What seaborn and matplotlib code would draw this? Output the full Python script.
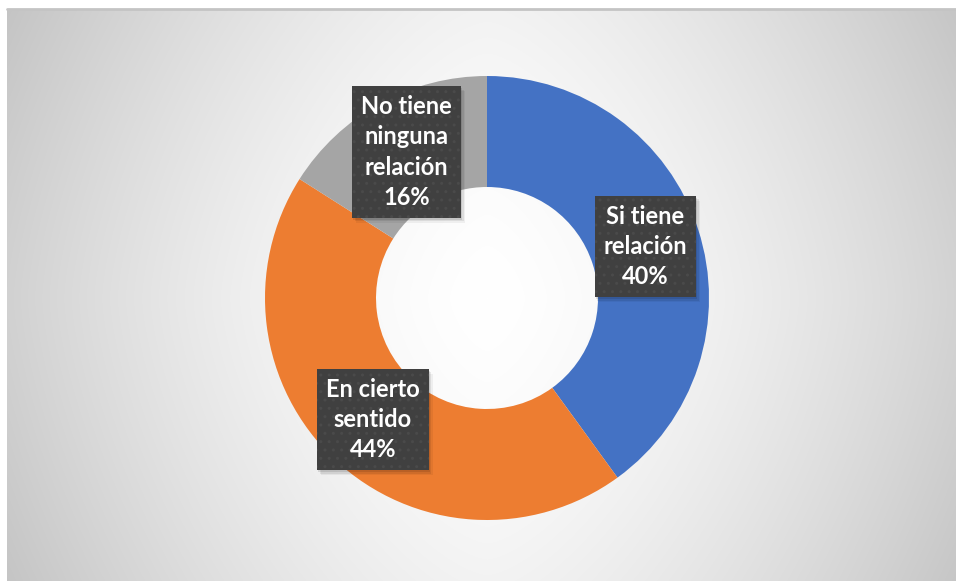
import numpy as np
import matplotlib
matplotlib.use("Agg")
import matplotlib.pyplot as plt
import matplotlib.transforms as mtrans
from matplotlib.patches import Rectangle
import seaborn as sns

# Survey answers and their shares (percent)
categories = ["Si tiene\nrelación", "En cierto\nsentido", "No tiene\nninguna\nrelación"]
shares = [40, 44, 16]
slice_colors = ["#4472C4", "#ED7D31", "#A5A5A5"]

sns.set_theme(style="white")
plt.rcParams["font.family"] = ["Lato", "DejaVu Sans"]

W, H, DPI = 956, 581, 100
fig = plt.figure(figsize=(W / DPI, H / DPI), dpi=DPI)
fig.patch.set_facecolor("white")

# Chart-area background: soft radial gradient, white centre to grey edges
bg_left, bg_top = 7, 9
bg = fig.add_axes([bg_left / W, 0, 1 - bg_left / W, (H - bg_top) / H])
bw, bh = W - bg_left, H - bg_top
xx, yy = np.meshgrid(np.arange(bw), np.arange(bh))
cx, cy = 487 - bg_left, 298 - bg_top
dx = np.abs(xx - cx) / 480.0
dy = np.abs(yy - cy) / 288.0
val = 1 - 0.18 * dx ** 1.5 - 0.05 * dy ** 1.5
val = np.clip(val, 0, 1)
bg.imshow(np.dstack([val, val, val]), aspect="auto", interpolation="bilinear",
          extent=[0, bw, bh, 0])
bg.set_xlim(0, bw)
bg.set_ylim(bh, 0)
bg.axis("off")
# thin top border
fig.add_artist(plt.Line2D([bg_left / W, 1], [(H - bg_top) / H] * 2,
                          color="#c4c4c4", lw=2.0, transform=fig.transFigure))

# Donut axes, radius 1 == 222 px, centred at (487, 298)
R = 222
cxp, cyp = 487, 298
ax = fig.add_axes([(cxp - R) / W, (H - cyp - R) / H, 2 * R / W, 2 * R / H])
ax.set_facecolor("none")
wedges, _ = ax.pie(shares, colors=slice_colors, startangle=90, counterclock=False,
                   radius=1.0, wedgeprops=dict(width=0.5, edgecolor="none"))
ax.set_xlim(-1, 1)
ax.set_ylim(-1, 1)
ax.set_aspect("equal")
ax.axis("off")

# Data labels: dark dotted boxes at the middle of the ring
labels = []
total = sum(shares)
cum = 0
for cat, share in zip(categories, shares):
    mid = (cum + share / 2) / total
    cum += share
    theta = np.deg2rad(90 - 360 * mid)
    r = 0.75
    x, y = r * np.cos(theta), r * np.sin(theta)
    t = ax.text(x, y, f"{cat}\n{share}%", ha="center", va="center", color="white",
                fontsize=17, fontweight="bold", linespacing=1.38, zorder=5,
                bbox=dict(boxstyle="square,pad=0.38", facecolor="#404040",
                          edgecolor="none"))
    bp = t.get_bbox_patch()
    bp.set_hatch("..")
    bp.set_edgecolor("#4a4a4a")
    bp.set_linewidth(0)
    labels.append(t)

# Soft drop shadow behind each label box (placed in pixel space once laid out)
fig.canvas.draw()
for t in labels:
    ext = t.get_bbox_patch().get_window_extent()
    for k, a in ((5, 0.05), (3.5, 0.08), (2, 0.10)):
        ax.add_artist(Rectangle((ext.x0 + k - 1, ext.y0 - k), ext.width, ext.height,
                                transform=mtrans.IdentityTransform(), facecolor="black",
                                alpha=a, edgecolor="none", zorder=4, clip_on=False))

fig.savefig("out.png", dpi=DPI)
